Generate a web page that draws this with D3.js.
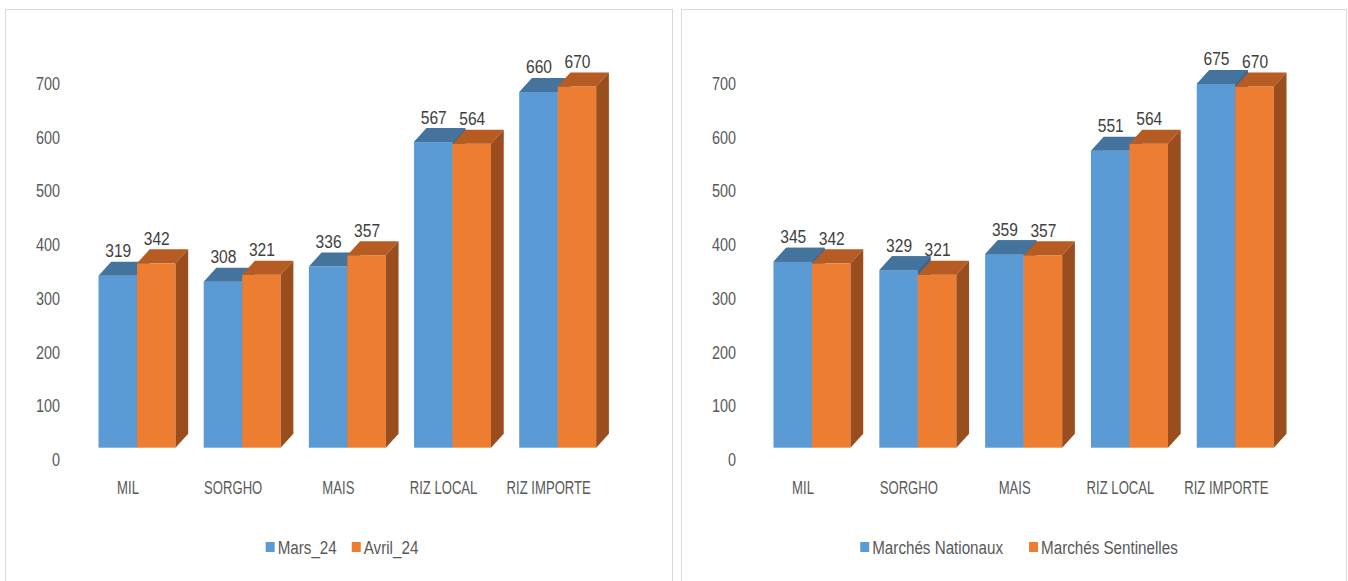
<!DOCTYPE html>
<html>
<head>
<meta charset="utf-8">
<script src="https://cdn.jsdelivr.net/npm/d3@7"></script>
<style>
  html, body { margin: 0; padding: 0; background: #ffffff; }
  svg { display: block; }
  text { font-family: "Liberation Sans Narrow", "Liberation Sans", Arial, sans-serif; }
</style>
</head>
<body>
<svg id="chart" width="1348" height="581"></svg>
<script>
// ---------- DATA ----------
const categories = ["MIL", "SORGHO", "MAIS", "RIZ LOCAL", "RIZ IMPORTE"];
const mars24 = [319, 308, 336, 567, 660];
const avril24 = [342, 321, 357, 564, 670];
const marchesNationaux = [345, 329, 359, 551, 675];
const marchesSentinelles = [342, 321, 357, 564, 670];
const yTicks = [0, 100, 200, 300, 400, 500, 600, 700];
const legendLeft = ["Mars_24", "Avril_24"];
const legendRight = ["Marchés Nationaux", "Marchés Sentinelles"];

// ---------- STYLE ----------
const colors = [
  { front: "#5b9bd5", top: "#44739e", side: "#3a6690" },
  { front: "#ed7d31", top: "#b65c23", side: "#9a4e1d" }
];
const depthX = 12.7, depthY = 14;
const fontSize = 19;
// horizontal condensation of text to mimic a Calibri Light look
const sxValue = 0.82, sxAxis = 0.76, sxCat = 0.69, sxLegend = 0.8;

const svg = d3.select("#chart");

function drawPanel(cfg) {
  const g = svg.append("g");
  g.append("rect")
    .attr("x", cfg.panel[0] + 0.5).attr("y", cfg.panel[1] + 0.5)
    .attr("width", cfg.panel[2]).attr("height", cfg.panel[3])
    .attr("fill", "#ffffff").attr("stroke", "#d9d9d9").attr("stroke-width", 1);

  const y = d3.scaleLinear().domain([0, 700]).range([447.7, 70.4]);
  const yWall = d3.scaleLinear().domain([0, 700]).range([459.5, 83.3]);
  const x0 = d3.scaleBand().domain(categories).range(cfg.xRange)
    .paddingInner(cfg.padIn).paddingOuter(cfg.padIn / 2);
  const x1 = d3.scaleBand().domain([0, 1]).range([0, x0.bandwidth()]).padding(0);

  // y axis (labels only, on the back wall)
  const ya = g.append("g")
    .attr("transform", `translate(${cfg.axisX},0)`)
    .call(d3.axisLeft(yWall).tickValues(yTicks).tickSize(0).tickPadding(0));
  ya.select(".domain").remove();
  ya.selectAll("text").attr("fill", "#595959").attr("font-size", fontSize)
    .attr("transform", `scale(${sxAxis},1)`)
    .style("font-family", null);

  // x axis (category labels)
  const xa = g.append("g")
    .attr("transform", `translate(-9,481)`)
    .call(d3.axisBottom(x0).tickSize(0).tickPadding(0));
  xa.select(".domain").remove();
  xa.selectAll("text").attr("fill", "#595959").attr("font-size", fontSize)
    .attr("dy", "0.71em").attr("transform", `scale(${sxCat},1)`)
    .style("font-family", null);

  const series = cfg.series;
  const base = y(0);
  const pts = a => a.map(p => p.join(",")).join(" ");

  categories.forEach((c, i) => {
    const cg = g.append("g");
    const bars = series.map((s, k) => {
      const L = x0(c) + x1(k);
      const R = L + x1.bandwidth();
      return { k, v: s[i], L, R, T: y(s[i]) };
    });
    function drawBar(b) {
      const col = colors[b.k];
      cg.append("rect").attr("x", b.L).attr("y", b.T)
        .attr("width", b.R - b.L).attr("height", base - b.T)
        .attr("fill", col.front);
      cg.append("polygon")
        .attr("points", pts([[b.L, b.T], [b.R, b.T], [b.R + depthX, b.T - depthY], [b.L + depthX, b.T - depthY]]))
        .attr("fill", col.top);
      cg.append("polygon")
        .attr("points", pts([[b.R, b.T], [b.R + depthX, b.T - depthY], [b.R + depthX, base - depthY], [b.R, base]]))
        .attr("fill", col.side);
    }
    drawBar(bars[0]);
    drawBar(bars[1]);
    const b0 = bars[0], b1 = bars[1];
    if (b0.v > b1.v) {
      cg.append("polygon")
        .attr("points", pts([[b0.R, b0.T], [b0.R + depthX, b0.T - depthY], [b0.R + depthX, b1.T - depthY], [b0.R, b1.T]]))
        .attr("fill", colors[0].side);
      cg.append("polygon")
        .attr("points", pts([[b0.L, b0.T], [b0.R, b0.T], [b0.R + depthX, b0.T - depthY], [b0.L + depthX, b0.T - depthY]]))
        .attr("fill", colors[0].top);
    }
    // value labels
    bars.forEach(b => {
      cg.append("text")
        .attr("transform", `translate(${(b.L + b.R) / 2 + 0.5},${b.T - depthY - 4.5}) scale(${sxValue},1)`)
        .attr("text-anchor", "middle")
        .attr("fill", "#404040")
        .attr("font-size", fontSize)
        .text(b.v);
    });
  });

  // legend
  const lg = g.append("g");
  const items = cfg.legend.map((name, k) => {
    const it = lg.append("g");
    it.append("rect").attr("x", 0).attr("y", -5).attr("width", 9).attr("height", 10)
      .attr("fill", colors[k].front);
    const t = it.append("text")
      .attr("transform", `translate(12,0) scale(${sxLegend},1)`)
      .attr("dy", "0.35em")
      .attr("fill", "#595959").attr("font-size", fontSize).text(name);
    return { it, w: 12 + t.node().getComputedTextLength() * sxLegend };
  });
  const gap = cfg.legendGap;
  const total = d3.sum(items, d => d.w) + gap * (items.length - 1);
  let cx = cfg.legendCenter - total / 2;
  items.forEach(d => {
    d.it.attr("transform", `translate(${cx},547)`);
    cx += d.w + gap;
  });
}

drawPanel({
  panel: [5, 9, 667, 590],
  xRange: [84.4, 610.3],
  padIn: 0.268,
  axisX: 60,
  series: [mars24, avril24],
  legend: legendLeft,
  legendCenter: 342,
  legendGap: 15
});

drawPanel({
  panel: [681, 9, 665, 590],
  xRange: [759.1, 1288.2],
  padIn: 0.272,
  axisX: 736,
  series: [marchesNationaux, marchesSentinelles],
  legend: legendRight,
  legendCenter: 1019,
  legendGap: 26
});
</script>
</body>
</html>
